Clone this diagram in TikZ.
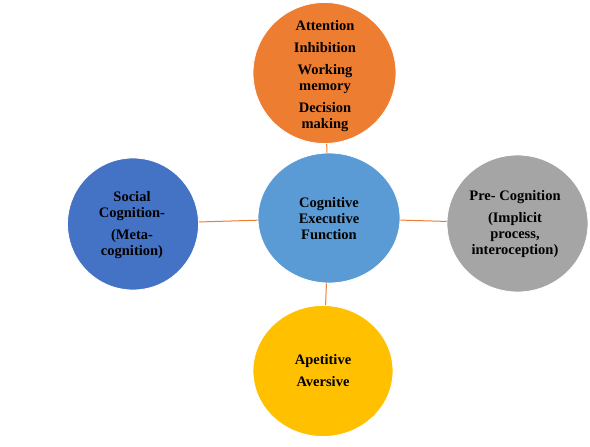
\documentclass[tikz,border=0pt]{standalone}
\usepackage{fontspec}
\setmainfont{Liberation Serif}
\usetikzlibrary{shapes.geometric}
\definecolor{cOrange}{HTML}{ED7D31}
\definecolor{cDarkBlue}{HTML}{4472C4}
\definecolor{cBlue}{HTML}{5B9BD5}
\definecolor{cGray}{HTML}{A5A5A5}
\definecolor{cGold}{HTML}{FFC000}
\tikzset{
  bubble/.style={ellipse, draw=white, line width=0.8pt, fill=#1, inner sep=0pt},
  bubbletext/.style={font=\fontsize{14.5}{16}\selectfont\bfseries, align=center},
  link/.style={draw=cOrange, line width=1pt}
}
\begin{document}
\begin{tikzpicture}[x=1pt, y=1pt]
  \useasboundingbox (0,0) rectangle (590,-447);
  \node[bubble=cOrange, minimum width=143pt, minimum height=141pt] (top) at (324.5,-73) {};
  \node[bubble=cBlue, minimum width=142pt, minimum height=130pt] (cef) at (329,-218) {};
  \node[bubble=cDarkBlue, minimum width=131pt, minimum height=132pt] (left) at (133,-224) {};
  \node[bubble=cGray, minimum width=141pt, minimum height=137pt] (right) at (517.5,-223.5) {};
  \node[bubble=cGold, minimum width=140pt, minimum height=131pt] (bottom) at (323,-371) {};
  % texts
  \node[bubbletext] (toptext) at (325,-76) {Attention\\[6pt]Inhibition\\[6pt]Working\\memory\\[6pt]Decision\\making};
  \node[bubbletext] (ceftext) at (329,-219) {Cognitive\\Executive\\Function};
  \node[bubbletext] (lefttext) at (132,-225) {Social\\Cognition-\\[6pt](Meta-\\cognition)};
  \node[bubbletext] (righttext) at (515,-224) {Pre- Cognition\\[6pt](Implicit\\process,\\interoception)};
  \node[bubbletext] (bottomtext) at (323,-371) {Apetitive\\[6pt]Aversive};
  % Draw the links
  \draw[link] (top) -- (cef);
  \draw[link] (left) -- (cef);
  \draw[link] (cef) -- (right);
  \draw[link] (cef) -- (bottom);
\end{tikzpicture}
\end{document}
